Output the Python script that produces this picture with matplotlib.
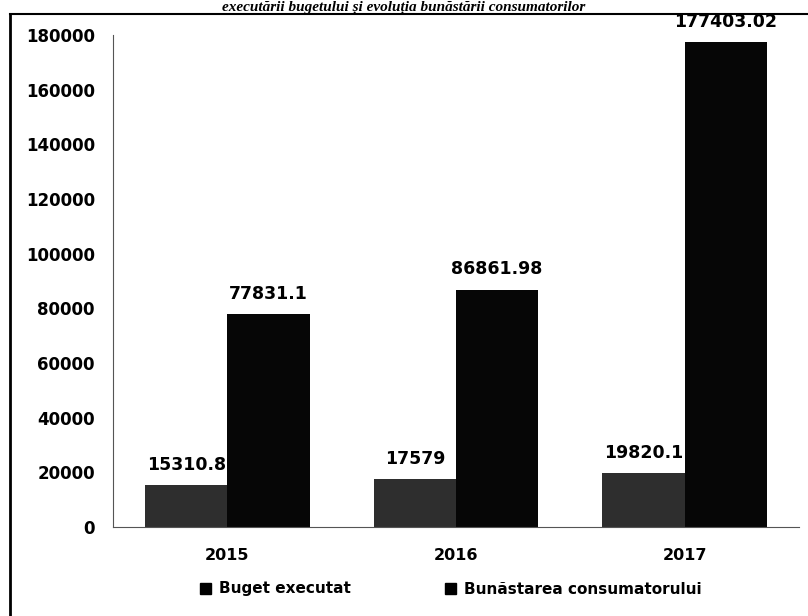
import matplotlib.pyplot as plt
import numpy as np

years = ["2015", "2016", "2017"]
buget = [15310.8, 17579, 19820.1]
bunastare = [77831.1, 86861.98, 177403.02]
buget_labels = ["15310.8", "17579", "19820.1"]
bunastare_labels = ["77831.1", "86861.98", "177403.02"]
yticks = [0, 20000, 40000, 60000, 80000, 100000, 120000, 140000, 160000, 180000]

fig = plt.figure(figsize=(8.08, 6.16), dpi=100)
ax = fig.add_axes([113 / 808, 1 - 527 / 616, 686 / 808, 492 / 616])

x = np.arange(len(years))
w = 0.36
b1 = ax.bar(x - w / 2, buget, w, color="#2e2e2e", label="Buget executat")
b2 = ax.bar(x + w / 2, bunastare, w, color="#060606", label="Bunăstarea consumatorului")

for bars, labels in [(b1, buget_labels), (b2, bunastare_labels)]:
    for rect, lab in zip(bars, labels):
        ax.annotate(lab, (rect.get_x() + rect.get_width() / 2, rect.get_height()),
                    xytext=(0, 8), textcoords="offset points", ha="center", va="bottom",
                    fontsize=12.5, fontweight="bold", annotation_clip=False)

ax.set_xlim(-0.5, 2.5)
ax.set_ylim(0, 180000)
ax.set_yticks(yticks)
ax.set_yticklabels([str(t) for t in yticks], fontsize=12, fontweight="bold")
ax.set_xticks(x)
ax.set_xticklabels(years, fontsize=11.5, fontweight="bold")
ax.tick_params(axis="y", length=0, pad=13)
ax.tick_params(axis="x", length=0, pad=15)
for s in ["top", "right"]:
    ax.spines[s].set_visible(False)
for s in ["left", "bottom"]:
    ax.spines[s].set_linewidth(0.8)
    ax.spines[s].set_color("#555555")

leg = fig.legend(handles=[b1, b2], loc="center", bbox_to_anchor=(0.558, 1 - 589 / 616),
                 ncol=2, frameon=False, handlelength=0.7, handleheight=0.7,
                 columnspacing=6.2, handletextpad=0.5, prop={"weight": "bold", "size": 11})
for h in leg.legend_handles:
    h.set_color("#000000")

# outer frame
fig.add_artist(plt.Line2D([10 / 808, 10 / 808], [0, 1 - 14 / 616], color="black", lw=2))
fig.add_artist(plt.Line2D([10 / 808, 1], [1 - 14 / 616, 1 - 14 / 616], color="black", lw=1.5))

# title strip above the frame
fig.text(0.5, 1 - 10 / 616, "executării bugetului și evoluția bunăstării consumatorilor",
         ha="center", va="baseline", fontsize=11, fontweight="bold", style="italic",
         family="Liberation Serif")

fig.savefig("out.png", dpi=100)
